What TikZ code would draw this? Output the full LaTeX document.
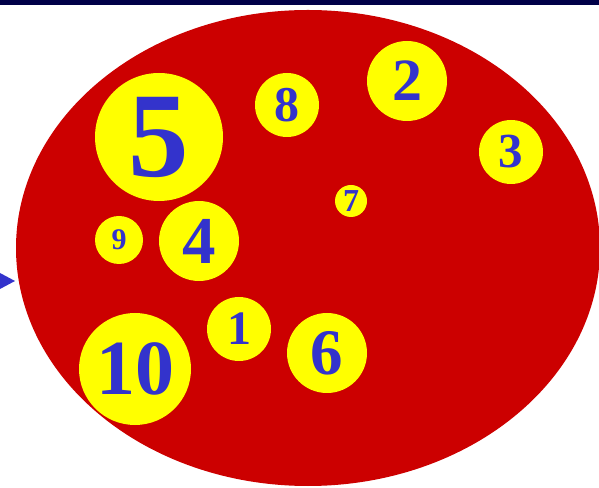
\documentclass[tikz,border=0pt]{standalone}
\usepackage{fontspec}
\setmainfont{Liberation Serif}
\definecolor{navy}{RGB}{0,0,72}
\definecolor{bgred}{RGB}{204,0,0}
\definecolor{discyellow}{RGB}{255,255,0}
\definecolor{digitblue}{RGB}{51,51,204}
\tikzset{
  disc/.style={circle, fill=discyellow, inner sep=0pt, text=digitblue, font=\bfseries},
}
\newcommand{\fs}[1]{\fontsize{#1}{#1}\selectfont\bfseries}
\begin{document}
\begin{tikzpicture}[x=1pt,y=1pt]
\useasboundingbox (0,0) rectangle (599,487);
% top bar
\fill[navy] (0,481.5) rectangle (599,487);
% big red ellipse
\fill[bgred] (308,239) ellipse [x radius=292, y radius=238];
% arrow head at left
\fill[digitblue] (0,214) -- (15,206) -- (0,198) -- cycle;
% discs
\node[disc, minimum size=128pt, font=\fs{121}] (c5) at (159,350) {5};
\node[disc, minimum size=48pt,  font=\fs{30}]  (c9) at (119,247) {9};
\node[disc, minimum size=80pt,  font=\fs{67}]  (c4) at (199,246) {4};
\node[disc, minimum size=112pt, font=\fs{78}]  (c10) at (135,118) {10};
\node[disc, minimum size=64pt,  font=\fs{48}]  (c1) at (239,158) {1};
\node[disc, minimum size=80pt,  font=\fs{65}]  (c6) at (327,134) {6};
\node[disc, minimum size=64pt,  font=\fs{50}]  (c8) at (287,382) {8};
\node[disc, minimum size=80pt,  font=\fs{60}]  (c2) at (407,406) {2};
\node[disc, minimum size=32pt,  font=\fs{32}]  (c7) at (351,286) {7};
\node[disc, minimum size=64pt,  font=\fs{49}]  (c3) at (511,335) {3};
\end{tikzpicture}
\end{document}
